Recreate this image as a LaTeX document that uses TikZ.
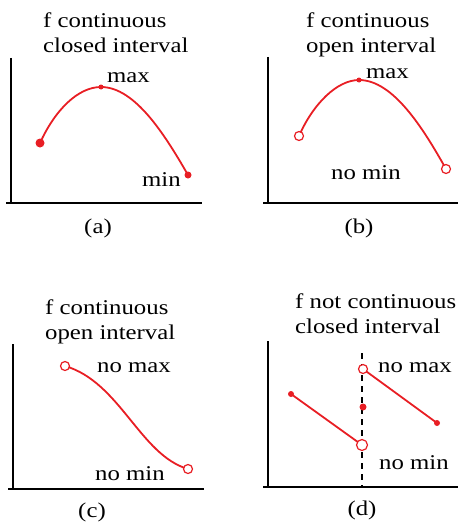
\documentclass[tikz,border=0pt]{standalone}
\usepackage{fontspec}
\newfontfamily\plotfont[FakeStretch=1.18]{Liberation Serif}
\usepackage{xcolor}
\usepackage{tikz}

\definecolor{fred}{RGB}{232,30,36}

\begin{document}
\begin{tikzpicture}[x=1pt, y=-1pt, font=\plotfont\fontsize{21}{24.5}\selectfont]

\tikzstyle{axisline} = [draw=black, line width=1.5pt]
\tikzstyle{curve}    = [draw=fred, line width=1.8pt]
\tikzstyle{fulldot}  = [circle, fill=fred, inner sep=0pt, minimum size=6pt]
\tikzstyle{holedot}  = [circle, draw=fred, fill=white, line width=1.2pt,
                        inner sep=0pt, minimum size=9pt]
\tikzstyle{title}    = [anchor=north west, inner sep=0pt, align=left]
\tikzstyle{word}     = [anchor=base west, inner sep=0pt]
\tikzstyle{caption}  = [anchor=base, inner sep=0pt]

\useasboundingbox (0,0) rectangle (458,527);

% ── (a) continuous, closed interval ──────────────────
\draw[axisline] (11,58) -- (11,203);
\draw[axisline] (6,203) -- (202,203);
\coordinate (a1) at (40,143);
\coordinate (a2) at (101,87);
\coordinate (a3) at (188,175);
\draw[curve] (a1) .. controls (55,110) and (78,87) .. (a2)
                  .. controls (135,87) and (165,135) .. (a3);
\node[fulldot, minimum size=9pt] (a1dot) at (a1) {};
\node[fulldot, minimum size=5pt] (a2dot) at (a2) {};
\node[fulldot, minimum size=7pt] (a3dot) at (a3) {};
\node[title]   (titleA) at (43,13)   {f continuous\\closed interval};
\node[word]    (maxA)   at (107,82)  {max};
\node[word]    (minA)   at (142,186) {min};
\node[caption] (capA)   at (98,233)  {(a)};

% ── (b) continuous, open interval ────────────────────
\draw[axisline] (268,57) -- (268,203);
\draw[axisline] (263,203) -- (458,203);
\coordinate (b1) at (299,136);
\coordinate (b2) at (359,80);
\coordinate (b3) at (446,169);
\draw[curve] (b1) .. controls (313,104) and (337,80) .. (b2)
                  .. controls (393,80) and (423,128) .. (b3);
\node[holedot] (b1dot) at (b1) {};
\node[fulldot, minimum size=5pt] (b2dot) at (b2) {};
\node[holedot] (b3dot) at (b3) {};
\node[title]   (titleB) at (306,13)  {f continuous\\open interval};
\node[word]    (maxB)   at (366,78)  {max};
\node[word]    (minB)   at (331,179) {no min};
\node[caption] (capB)   at (359,233) {(b)};

% ── (c) continuous, open interval ────────────────────
\draw[axisline] (13,344) -- (13,489);
\draw[axisline] (8,489) -- (204,489);
\coordinate (c1) at (65,366);
\coordinate (c2) at (188,469);
\draw[curve] (c1) .. controls (120,382) and (140,455) .. (c2);
\node[holedot] (c1dot) at (c1) {};
\node[holedot] (c2dot) at (c2) {};
\node[title]   (titleC) at (45,300)  {f continuous\\open interval};
\node[word]    (maxC)   at (97,372)  {no max};
\node[word]    (minC)   at (95,480)  {no min};
\node[caption] (capC)   at (92,517)  {(c)};

% ── (d) not continuous, closed interval ──────────────
\draw[axisline] (268,341) -- (268,487);
\draw[axisline] (263,487) -- (458,487);
\coordinate (jtop) at (362,353);
\coordinate (jbot) at (362,487);
\draw[black, line width=1.1pt, dash pattern=on 6pt off 5pt] (jtop) -- (jbot);
\coordinate (d1) at (291,394);
\coordinate (d2) at (362,445);
\coordinate (d3) at (363,369);
\coordinate (d4) at (363,407);
\coordinate (d5) at (437,423);
\draw[curve] (d1) -- (d2);
\draw[curve] (d3) -- (d5);
\node[fulldot]  (d1dot) at (d1) {};
\node[holedot, minimum size=11pt] (d2dot) at (d2) {};
\node[holedot]  (d3dot) at (d3) {};
\node[fulldot, minimum size=7pt] (d4dot) at (d4) {};
\node[fulldot]  (d5dot) at (d5) {};
\node[title]   (titleD) at (295,294) {f not continuous\\closed interval};
\node[word]    (maxD)   at (378,372) {no max};
\node[word]    (minD)   at (379,469) {no min};
\node[caption] (capD)   at (362,515) {(d)};

\end{tikzpicture}
\end{document}
